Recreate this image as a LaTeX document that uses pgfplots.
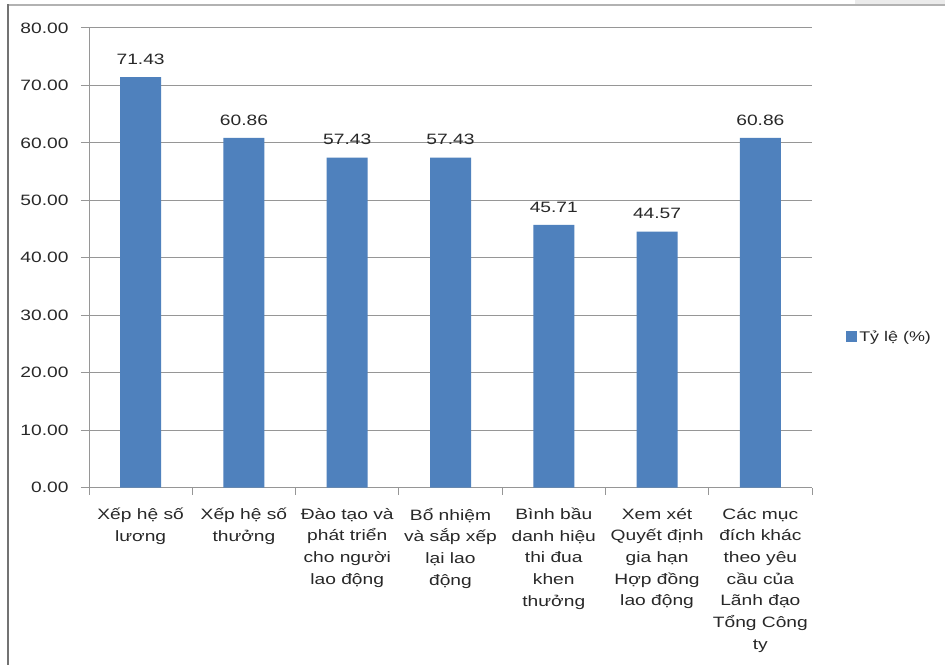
\documentclass[border=0pt]{standalone}
\usepackage{pgfplots}
\pgfplotsset{compat=1.18}
\usepackage{fontspec}
\setmainfont{Liberation Sans}[FakeStretch=1.28]
\definecolor{barblue}{RGB}{79,129,189}
\definecolor{gridgray}{RGB}{150,150,150}
\definecolor{txt}{RGB}{40,40,40}
\begin{document}
\begin{tikzpicture}
\useasboundingbox (0,0) rectangle (945bp,665bp);
\fill[white] (0,0) rectangle (945bp,665bp);
% outer frame of the chart area
\fill[black!8] (855bp,660bp) rectangle (945bp,665bp);
\draw[black!30, line width=1.5bp] (8bp,660bp) -- (945bp,660bp);
\draw[black!55, line width=2.5bp] (8bp,0bp) -- (8bp,661bp);
\begin{axis}[
  at={(89bp,177.5bp)}, anchor=south west,
  scale only axis, width=723bp, height=459.5bp,
  ybar, bar width=41bp,
  xmin=-0.5, xmax=6.5, ymin=0, ymax=80,
  enlarge x limits=false,
  axis x line=bottom, axis y line=left,
  axis line style={gridgray, line width=1bp, -},
  ytick={0,10,...,80},
  ymajorgrids, grid style={gridgray, line width=1bp},
  xtick={0,...,6},
  minor xtick={-0.5,0.5,...,6.5},
  tick align=outside,
  major tick length=8bp,
  x tick style={draw=none},
  minor x tick style={draw=gridgray, line width=1bp},
  minor tick length=7bp,
  y tick style={gridgray, line width=1bp},
  /pgf/number format/assume math mode=true,
  yticklabel style={/pgf/number format/fixed, /pgf/number format/zerofill,
    /pgf/number format/precision=2, font=\fontsize{15bp}{18bp}\selectfont,
    text=txt, xshift=-9bp},
  xticklabels={{Xếp hệ số\\lương},{Xếp hệ số\\thưởng},{Đào tạo và\\phát triển\\cho người\\lao động},{Bổ nhiệm\\và sắp xếp\\lại lao\\động},{Bình bầu\\danh hiệu\\thi đua\\khen\\thưởng},{Xem xét\\Quyết định\\gia hạn\\Hợp đồng\\lao động},{Các mục\\đích khác\\theo yêu\\cầu của\\Lãnh đạo\\Tổng Công\\ty}},
  xticklabel style={align=center, font=\fontsize{15bp}{21.7bp}\selectfont,
    text=txt, yshift=-9bp},
  nodes near coords,
  nodes near coords style={/pgf/number format/fixed, /pgf/number format/zerofill,
    /pgf/number format/precision=2, font=\fontsize{15bp}{18bp}\selectfont,
    text=txt, yshift=9bp},
  legend style={at={(1.043,0.3275)}, anchor=west, draw=none, fill=none,
    font=\fontsize{14bp}{17bp}\selectfont, text=txt},
  legend image code/.code={\fill[#1] (0bp,-5bp) rectangle (11bp,6bp);},
]
\addplot[fill=barblue, draw=none] coordinates {
  (0,71.43) (1,60.86) (2,57.43) (3,57.43) (4,45.71) (5,44.57) (6,60.86)};
\addlegendentry{Tỷ lệ (\%)}
\end{axis}
\end{tikzpicture}
\end{document}
